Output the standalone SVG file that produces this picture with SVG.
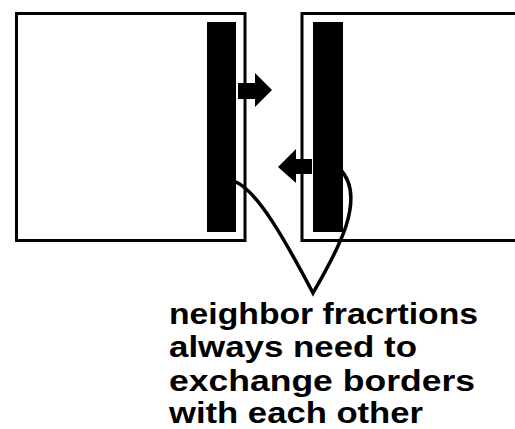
<svg xmlns="http://www.w3.org/2000/svg" width="515" height="429" viewBox="0 0 515 429">
<style>
.box{fill:#fff;stroke:#000;stroke-width:3}
.bar{fill:#000}
.arrow{fill:#000}
.conn{fill:none;stroke:#000;stroke-width:3.5;stroke-linecap:round}
.lbl{font-family:"Liberation Sans",Arial,sans-serif;font-weight:bold;font-size:29px;fill:#000}
</style>
<rect x="0" y="0" width="515" height="429" fill="#fff"/>
<g id="left-fraction">
<rect class="box" x="16.5" y="13.5" width="228.5" height="227"/>
<rect class="bar" x="207" y="22" width="29" height="210"/>
</g>
<g id="right-fraction">
<rect class="box" x="302" y="13.5" width="220" height="227"/>
<rect class="bar" x="313" y="22" width="30" height="210"/>
</g>
<g id="connectors">
<polygon class="arrow" points="238,83 255,83 255,73 272,90 255,107 255,99 238,99"/>
<polygon class="arrow" points="312,159 296,159 296,149 278,167 296,183 296,174 312,174"/>
<path class="conn" d="M236,182 C258,192 285,240 313,293 C333,258 370,198 339,168"/>
</g>
<g id="label">
<text class="lbl" x="169" y="324" textLength="309" lengthAdjust="spacingAndGlyphs">neighbor fracrtions</text>
<text class="lbl" x="169" y="357" textLength="248" lengthAdjust="spacingAndGlyphs">always need to</text>
<text class="lbl" x="169" y="391" textLength="306" lengthAdjust="spacingAndGlyphs">exchange borders</text>
<text class="lbl" x="169" y="423" textLength="254" lengthAdjust="spacingAndGlyphs">with each other</text>
</g>
</svg>
